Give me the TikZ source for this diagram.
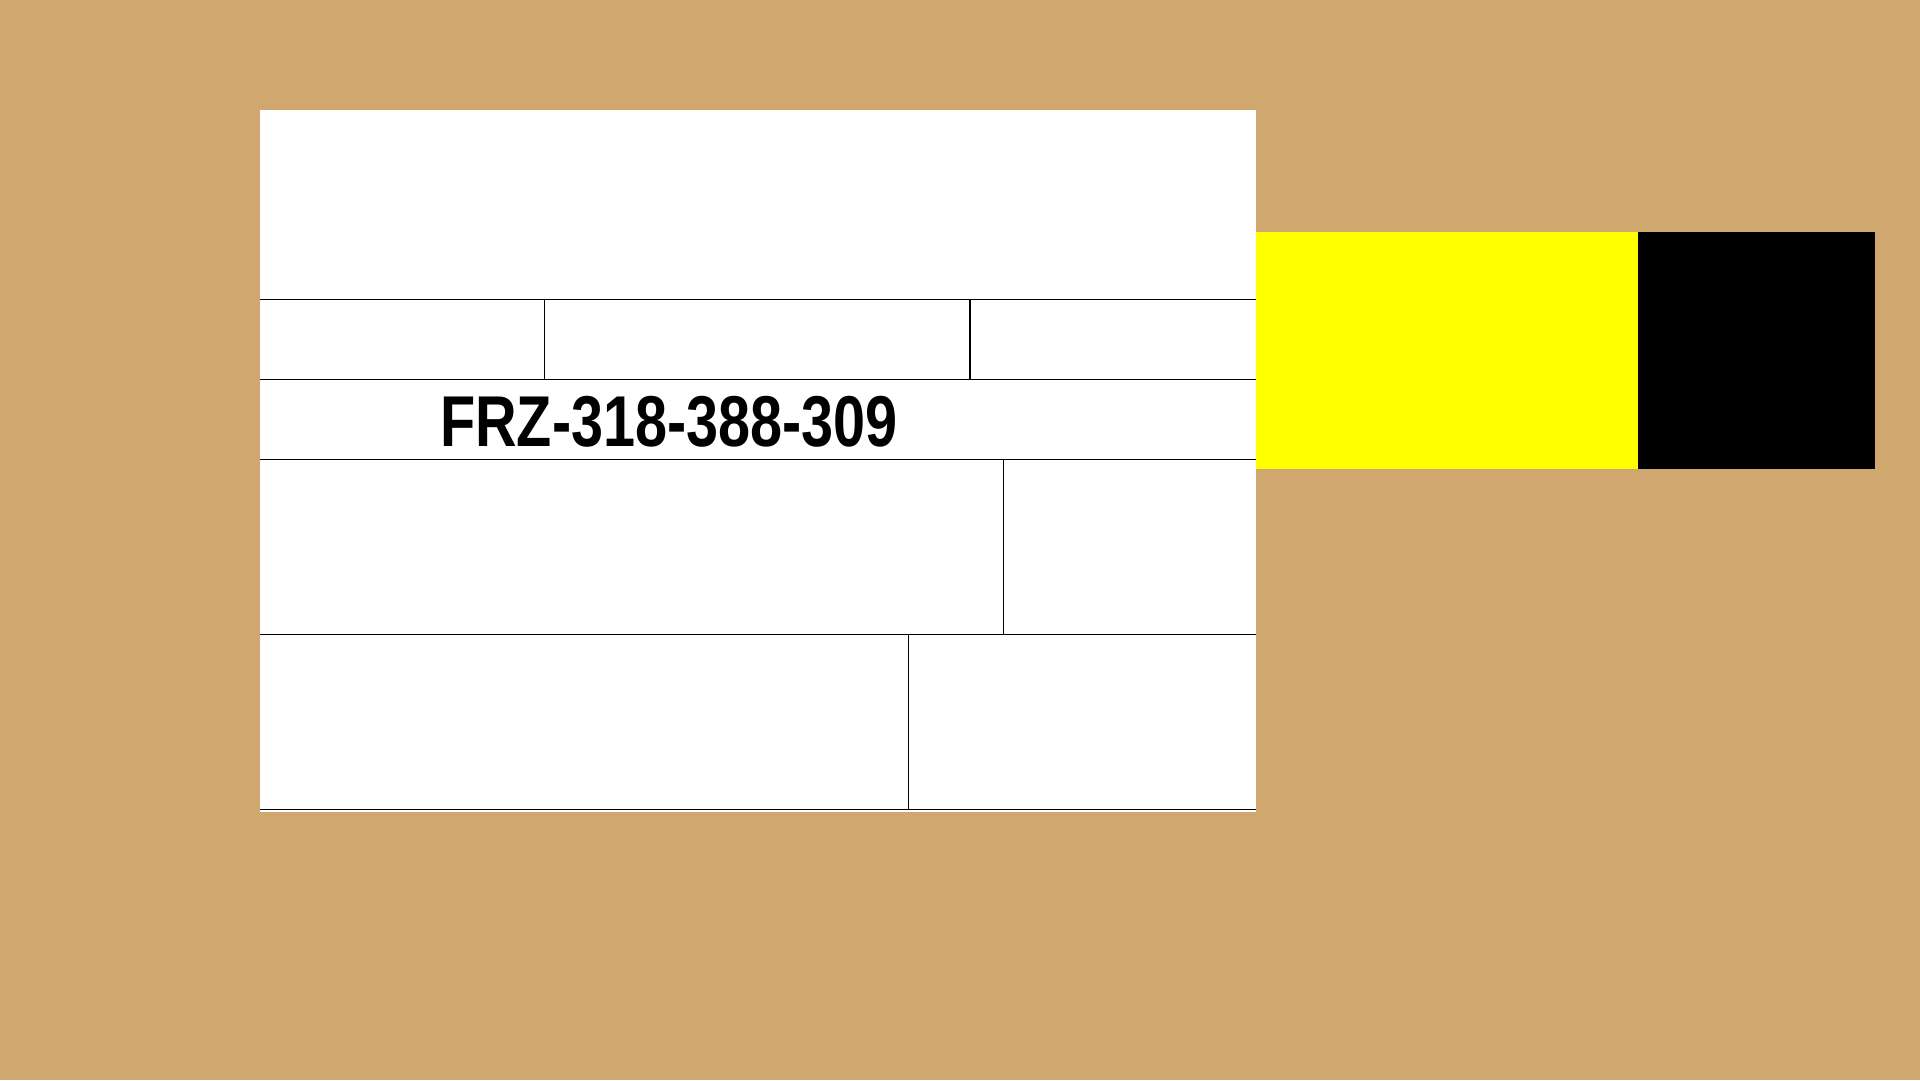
\documentclass[tikz,border=0pt]{standalone}
\usepackage{fontspec}
\setmainfont{Liberation Sans}
\definecolor{bgtan}{RGB}{208,167,110}
\definecolor{yel}{RGB}{255,255,0}
\begin{document}
\begin{tikzpicture}[x=1pt,y=-1pt,
  rule/.style={draw=black,line width=1.2pt},
  label/.style={inner sep=0pt,anchor=base,font=\fontsize{72}{72}\selectfont\bfseries}]
\fill[bgtan] (0,0) rectangle (1920,1080);
\useasboundingbox (0,0) rectangle (1920,1080);
% white card
\fill[white] (260,110) rectangle (1256,812);
% horizontal rules
\coordinate (l1) at (260,299.3); \coordinate (r1) at (1256,299.3);
\coordinate (l2) at (260,379.3); \coordinate (r2) at (1256,379.3);
\coordinate (l3) at (260,459.3); \coordinate (r3) at (1256,459.3);
\coordinate (l4) at (260,634.3); \coordinate (r4) at (1256,634.3);
\coordinate (l5) at (260,809.5); \coordinate (r5) at (1256,809.5);
\draw[rule] (l1) -- (r1);
\draw[rule] (l2) -- (r2);
\draw[rule] (l3) -- (r3);
\draw[rule] (l4) -- (r4);
\draw[rule] (l5) -- (r5);
% vertical dividers
\draw[rule] (544.3,299.3) -- (544.3,379.3);
\draw[rule] (970,299.3) -- (970,379.3);
\draw[rule] (1003.4,459.3) -- (1003.4,634.3);
\draw[rule] (908.6,634.3) -- (908.6,809.5);
% number
\node[label] (num) at (669,446) {\scalebox{0.80}[1]{FRZ-318-388-309}};
% flag
\fill[yel] (1256,232) rectangle (1638,469);
\fill[black] (1638,232) rectangle (1875,469);
\end{tikzpicture}
\end{document}
